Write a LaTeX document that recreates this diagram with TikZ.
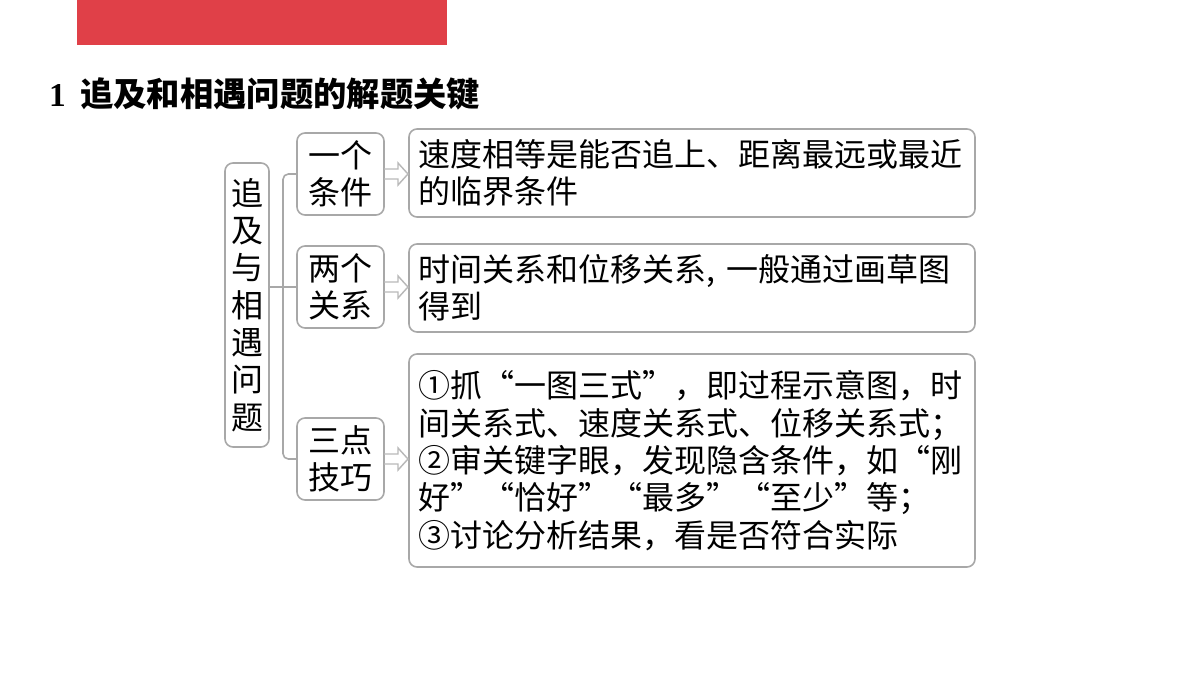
\documentclass[tikz,border=0pt]{standalone}
\usepackage{fontspec}
\setmainfont{Liberation Serif}
\newfontfamily\cjk{Noto Sans CJK SC}
\definecolor{barred}{HTML}{E04048}
\definecolor{boxgray}{HTML}{A8A8A8}
\begin{document}
\begin{tikzpicture}[x=0.75pt, y=-0.75pt]
\tikzset{ >=latex, outer sep=0pt,
  box/.style={draw=boxgray, line width=1.2pt, rounded corners=6pt, inner sep=0pt,
    font=\cjk\fontsize{24}{28}\selectfont, align=center},
  note/.style={box, align=left, text width=411pt, minimum width=424.5pt},
  wire/.style={draw=boxgray, line width=1.2pt, rounded corners=4pt},
  fat/.style={draw=boxgray!80, line width=1.1pt, line join=miter},
}

%\draw [lightgray, dashed](0,0) grid [step=50] (1200,675);
\useasboundingbox (0,0) rectangle (1200,675);

\fill [barred] (77,0) rectangle (447,45);
\node [anchor=west, inner sep=0pt] (H) at (49,94)
  {\bfseries\fontsize{25}{30}\selectfont 1\hspace{11pt}\cjk\bfseries 追及和相遇问题的解题关键};

\node [box, minimum width=33pt, minimum height=213pt] (T) at (247,305)
  {追\\及\\与\\相\\遇\\问\\题};

\node [box, minimum width=65.25pt, minimum height=61.5pt] (C1) at (340.5,174) {一个\\条件};
\node [box, minimum width=65.25pt, minimum height=61.5pt] (C2) at (340.5,287) {两个\\关系};
\node [box, minimum width=65.25pt, minimum height=61.5pt] (C3) at (340.5,459) {三点\\技巧};

\node [note, minimum height=66pt] (D1) at (692,173)
  {速度相等是能否追上、距离最远或最近\\的临界条件};
\node [note, minimum height=66pt] (D2) at (692,288)
  {时间关系和位移关系,\hspace{9pt}一般通过画草图\\得到};
\node [note, minimum height=159.75pt] (D3) at (692,460.5)
  {①抓“一图三式”，即过程示意图，时\\间关系式、速度关系式、位移关系式；\\②审关键字眼，发现隐含条件，如“刚\\好”“恰好”“最多”“至少”等；\\③讨论分析结果，看是否符合实际};

\draw [wire] (C1.west) -- ++(-14,0) |- (C3.west);
\draw [wire] (T.east |- C2.west) -- (C2.west);

\foreach \a/\b in {C1/D1, C2/D2, C3/D3}
  \draw [fat] (\a.east) ++(0,-5) -- ++(14,0) -- ++(0,-6) -- ++(10,11)
    -- ++(-10,11) -- ++(0,-6) -- ++(-14,0);

\end{tikzpicture}
\end{document}
